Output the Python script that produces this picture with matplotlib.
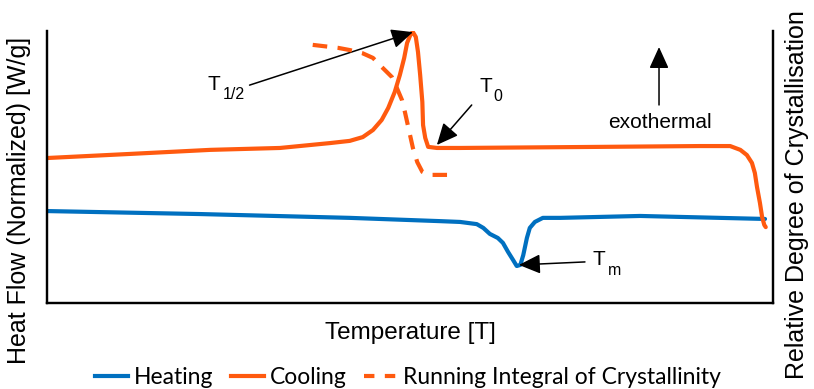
import matplotlib
matplotlib.use("Agg")
import matplotlib.pyplot as plt
from matplotlib.lines import Line2D

# ---- data (arbitrary normalized units) ----
cool_x = [0, 11.4, 22.5, 32.1, 39.0, 41.7, 43.5, 44.9, 46.1, 47.0, 47.9, 48.6, 49.2, 49.6,
          50.1, 50.4, 50.8, 51.1, 51.4, 51.7, 51.8, 52.1, 52.5, 53.7, 56.9, 76.2, 89.9,
          94.1, 95.5, 96.4, 97.1, 97.5, 97.8, 98.2, 98.5, 98.8, 99.0]
cool_y = [53.3, 54.8, 56.3, 57.0, 58.8, 59.6, 61.0, 63.6, 67.3, 71.7, 77.6, 83.8, 90.1, 95.6,
          98.9, 99.6, 97.8, 92.3, 83.8, 73.9, 65.4, 60.7, 57.4, 57.0, 57.0, 57.4, 57.7,
          57.7, 56.3, 54.4, 51.5, 47.8, 42.6, 36.8, 31.6, 28.7, 27.9]

heat_x = [0, 21.1, 41.7, 54.1, 56.9, 59.2, 60.1, 61.0, 62.1, 62.8, 63.5, 64.2, 64.7, 65.2,
          65.6, 66.1, 66.5, 67.2, 68.3, 70.7, 81.7, 98.9]
heat_y = [33.8, 32.7, 31.3, 30.1, 29.8, 29.0, 27.6, 25.4, 23.9, 22.1, 18.8, 15.8, 13.6, 14.0,
          17.6, 23.9, 27.6, 29.8, 31.3, 31.3, 32.0, 30.9]

integ_x = [36.6, 40.1, 41.7, 43.4, 44.9, 46.1, 47.5, 48.2, 48.9, 49.3, 49.7, 50.0, 50.4,
           51.0, 51.7, 52.5, 53.4, 55.1]
integ_y = [94.9, 93.8, 93.0, 91.9, 90.1, 86.8, 83.1, 79.0, 74.6, 70.2, 65.4, 61.8, 57.0,
           51.8, 48.2, 47.1, 47.1, 47.1]

labels = ["Heating", "Cooling", "Running Integral of Crystallinity"]

BLUE = "#0070C0"
ORANGE = "#FF5A0F"

plt.rcParams["font.family"] = ["Liberation Sans", "DejaVu Sans"]

fig = plt.figure(figsize=(8.14, 3.89), dpi=100)
ax = fig.add_axes([47 / 814, 1 - 303 / 389, (773 - 47) / 814, (303 - 31) / 389])
ax.set_xlim(0, 100)
ax.set_ylim(0, 100)

ax.plot(heat_x, heat_y, color=BLUE, lw=3.0, solid_capstyle="round", solid_joinstyle="round")
ax.plot(cool_x, cool_y, color=ORANGE, lw=3.0, solid_capstyle="round", solid_joinstyle="round")

ax2 = ax.twinx()
ax2.set_ylim(0, 100)
ax2.plot(integ_x, integ_y, color=ORANGE, lw=3.0, dashes=(3.5, 2.5))

for a in (ax, ax2):
    a.set_xticks([])
    a.set_yticks([])
    for s in ("left", "bottom", "right"):
        a.spines[s].set_linewidth(1.6)
    a.spines["top"].set_visible(False)

ax.set_xlabel("Temperature [T]", fontsize=17.5, labelpad=14)
fig.text(19 / 814, 1 - 200 / 389, "Heat Flow (Normalized) [W/g]", fontsize=18,
         rotation=90, ha="center", va="center")
fig.text(797 / 814, 1 - 195 / 389, "Relative Degree of Crystallisation", fontsize=18,
         rotation=90, ha="center", va="center")

arrow = dict(arrowstyle="-|>,head_length=1.1,head_width=0.5", color="black", lw=1.1,
             shrinkA=0, shrinkB=0, mutation_scale=12)

# T1/2
ax.annotate("", xy=(50.4, 99.6), xytext=(27.9, 80.1), arrowprops=arrow)
ax.text(22.1, 78.3, "T", fontsize=15, va="baseline", ha="left")
ax.text(24.2, 75.0, "1/2", fontsize=11.5, va="baseline", ha="left")
# T0
ax.annotate("", xy=(53.7, 58.1), xytext=(58.5, 72.8), arrowprops=arrow)
ax.text(59.6, 77.6, "T", fontsize=15, va="baseline", ha="left")
ax.text(61.5, 74.4, "0", fontsize=11.5, va="baseline", ha="left")
# Tm
ax.annotate("", xy=(65.0, 14.0), xytext=(74.1, 15.1), arrowprops=arrow)
ax.text(75.2, 14.0, "T", fontsize=15, va="baseline", ha="left")
ax.text(77.2, 10.4, "m", fontsize=11.5, va="baseline", ha="left")
# exothermal
ax.annotate("", xy=(84.3, 94.1), xytext=(84.3, 72.8), arrowprops=arrow)
ax.text(84.4, 66.5, "exothermal", fontsize=15, va="center", ha="center")

handles = [Line2D([], [], color=BLUE, lw=3.0),
           Line2D([], [], color=ORANGE, lw=3.0),
           Line2D([], [], color=ORANGE, lw=3.0, dashes=(2.5, 2.5))]
fig.legend(handles, labels, loc="center", bbox_to_anchor=(408 / 814, 1 - 378 / 389),
           ncol=3, frameon=False, prop={"family": "Lato", "size": 16.5},
           handlelength=1.45, handletextpad=0.25, columnspacing=0.75, borderpad=0)

fig.savefig("out.png", dpi=100)
